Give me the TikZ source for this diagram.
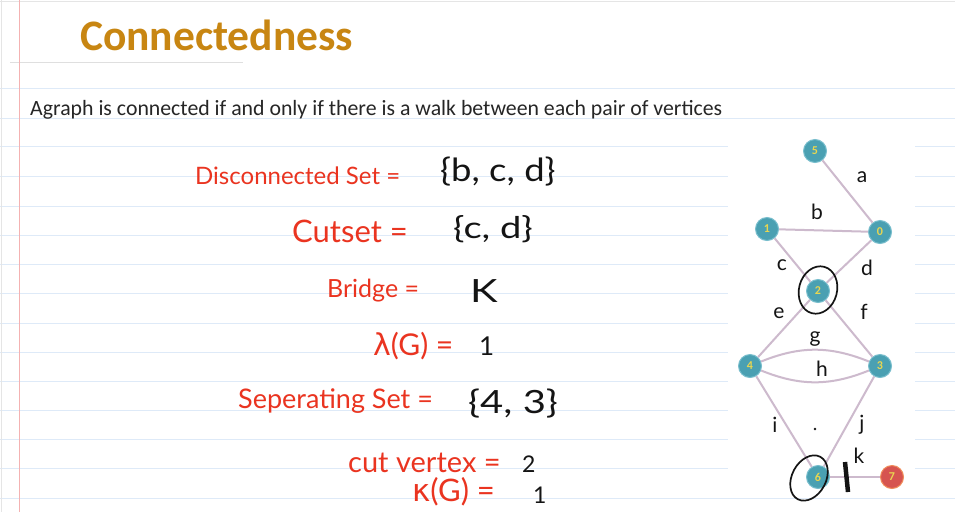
\documentclass[tikz,border=0pt]{standalone}
\usepackage{fontspec}
\usepackage{graphicx}
\setmainfont{Carlito}
\newfontfamily\handfont{Lato}
\newfontfamily\calfont{Carlito}
\newfontfamily\greekfont{DejaVu Sans}
\definecolor{ruleblue}{RGB}{222,234,248}
\definecolor{marginred}{RGB}{244,178,178}
\definecolor{titlegold}{RGB}{200,134,18}
\definecolor{inkred}{RGB}{234,52,32}
\definecolor{inkblack}{RGB}{20,20,20}
\definecolor{nodeteal}{RGB}{74,160,178}
\definecolor{tealrim}{RGB}{120,190,205}
\definecolor{numyellow}{RGB}{232,214,80}
\definecolor{nodered}{RGB}{214,84,80}
\definecolor{noderim}{RGB}{240,140,90}
\definecolor{edgecol}{RGB}{205,186,205}
\newcommand{\hsz}[1]{\handfont\fontsize{#1}{#1}\selectfont}
\tikzset{
  ruleline/.style={draw=ruleblue, line width=1pt},
  vtx/.style={circle, fill=nodeteal, draw=tealrim, line width=1pt, minimum size=23pt, inner sep=0pt,
    text=numyellow, font=\calfont\bfseries\fontsize{12}{12}\selectfont},
  vtxred/.style={vtx, fill=nodered, draw=noderim},
  gedge/.style={draw=edgecol, line width=2pt},
  redtxt/.style={text=inkred, inner sep=0pt, anchor=base west},
  blktxt/.style={text=inkblack, inner sep=0pt, anchor=base west},
  elabel/.style={text=inkblack, font=\hsz{21}, inner sep=0pt},
  scribble/.style={draw=inkblack, line width=1.7pt}
}
\begin{document}
\begin{tikzpicture}[x=1pt,y=-1pt]
\useasboundingbox (0,0) rectangle (955,512);
\fill[white] (0,0) rectangle (955,512);
% paper rules
\draw[draw=gray!20, line width=0.8pt] (0,1) -- (955,1);
\draw[draw=gray!25, line width=0.8pt] (10,62) -- (243,62);
\foreach \yy in {88,118} {\draw[ruleline] (0,\yy) -- (955,\yy);}
\foreach \yy in {146,176,206,235,264,293,323,352,381,410,439,468} {
  \draw[ruleline] (0,\yy) -- (728,\yy);
  \draw[ruleline] (915,\yy) -- (955,\yy);
}
\draw[ruleline] (0,498) -- (955,498);
\draw[draw=marginred, line width=1pt] (19,0) -- (19,512);
\draw[draw=gray!20, line width=0.8pt] (1,0) -- (1,512);
% title and statement
\node[text=titlegold, font=\calfont\bfseries\fontsize{43.5}{43.5}\selectfont, inner sep=0pt, anchor=base west] (title) at (80,50) {Connectedness};
\node[text=black!85, font=\calfont\fontsize{21.8}{21.8}\selectfont, inner sep=0pt, anchor=base west] (def) at (30,115) {Agraph is connected if and only if there is a walk between each pair of vertices};
% handwritten notes
\node[redtxt, font=\hsz{24}] (l1) at (195,184) {Disconnected Set =};
\node[blktxt, font=\hsz{32}] (r1) at (440,181) {\scalebox{1.14}[1]{\{b, c, d\}}};
\node[redtxt, font=\hsz{31}] (l2) at (292,242) {Cutset =};
\node[blktxt, font=\hsz{30}] (r2) at (453,238) {\scalebox{1.27}[1]{\{c, d\}}};
\node[redtxt, font=\hsz{25}] (l3) at (327,297) {Bridge =};
\node[blktxt, font=\hsz{32}] (r3) at (470,302) {\scalebox{1.3}[1]{K}};
\node[redtxt, font=\hsz{30}] (l4) at (373,355) {{\greekfont λ}(G) =};
\node[blktxt, font=\hsz{26}] (r4) at (479,355) {1};
\node[redtxt, font=\hsz{27}] (l5) at (238,408) {Seperating Set =};
\node[blktxt, font=\hsz{32}] (r5) at (468,413) {\scalebox{1.25}[1]{\{4, 3\}}};
\node[redtxt, font=\hsz{29}] (l6) at (348,472) {cut vertex =};
\node[blktxt, font=\hsz{23}] (r6) at (522,472) {2};
\node[redtxt, font=\hsz{31}] (l7) at (412,501) {{\greekfont κ}(G) =};
\node[blktxt, font=\hsz{23}] (r7) at (533,503) {1};
% graph
\node[vtx] (v5) at (815,151) {5};
\node[vtx] (v1) at (767,229) {1};
\node[vtx] (v0) at (880,232) {0};
\node[vtx] (v2) at (818,291) {2};
\node[vtx] (v4) at (750,366) {4};
\node[vtx] (v3) at (880,366) {3};
\node[vtx] (v6) at (818,477) {6};
\node[vtxred] (v7) at (892,477) {7};
\draw[gedge] (v5) -- (v0);
\draw[gedge] (v1) -- (v0);
\draw[gedge] (v1) -- (v2);
\draw[gedge] (v0) -- (v2);
\draw[gedge] (v2) -- (v4);
\draw[gedge] (v2) -- (v3);
\draw[gedge] (v4) to[bend right=22] (v3);
\draw[gedge] (v4) to[bend left=22] (v3);
\draw[gedge] (v4) -- (v6);
\draw[gedge] (v3) -- (v6);
\draw[gedge] (v6) -- (v7);
% edge labels
\node[elabel] (la) at (862,177) {a};
\node[elabel] (lb) at (817,212) {b};
\node[elabel] (lc) at (782,265) {c};
\node[elabel] (ld) at (867,268) {d};
\node[elabel] (le) at (779,313) {e};
\node[elabel] (lf) at (864,312) {f};
\node[elabel] (lg) at (815,339) {g};
\node[elabel] (lh) at (822,369) {h};
\node[elabel] (li) at (775,425) {i};
\node[elabel] (lj) at (862,425) {j};
\node[elabel] (lk) at (859,456) {k};
\fill[inkblack] (815,429) circle (1.3pt);
% annotations
\draw[scribble] (v2.center) ++(0,-1) ellipse [x radius=19, y radius=24, rotate=-15];
\draw[scribble] (v6.center) ++(-9,1) ellipse [x radius=17, y radius=24, rotate=-28];
\draw[draw=inkblack, line width=4.5pt] (845,462) -- (848,492);
\end{tikzpicture}
\end{document}
